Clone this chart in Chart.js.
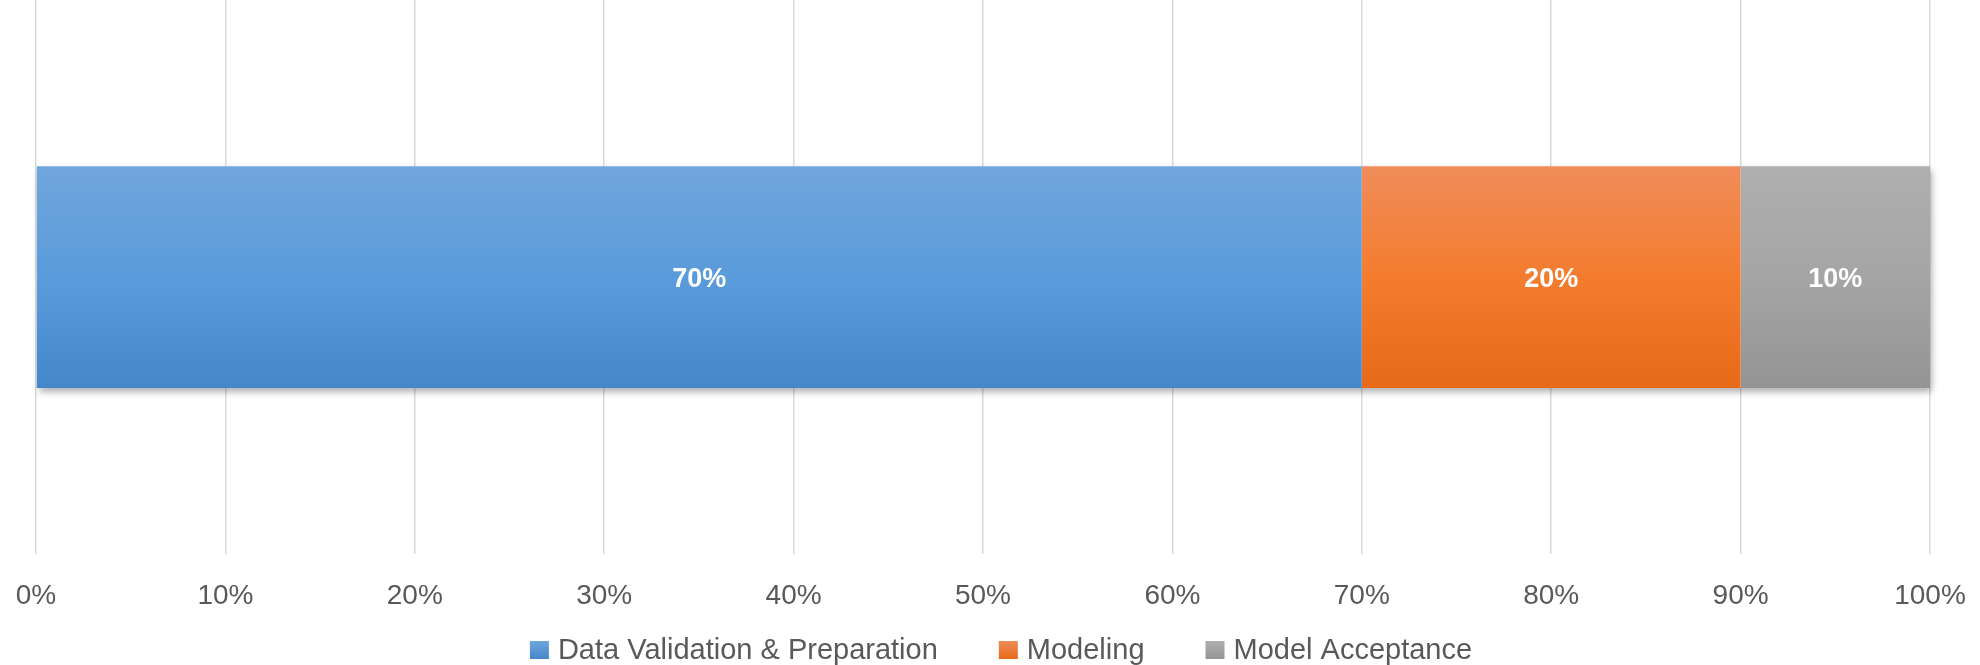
<!DOCTYPE html>
<html>
<head>
<meta charset="utf-8">
<script src="https://cdn.jsdelivr.net/npm/chart.js@4/dist/chart.umd.min.js"></script>
<style>
  html, body { margin: 0; padding: 0; background: #fff; }
  #wrap { width: 1980px; height: 665px; }
</style>
</head>
<body>
<div id="wrap"><canvas id="phaseChart"></canvas></div>
<script>
// Share of project effort per phase (percent)
const categories = [''];
const phaseNames = ['Data Validation & Preparation', 'Modeling', 'Model Acceptance'];
const phaseShares = [70, 20, 10];
const axisMin = 0;
const axisMax = 100;
const axisStep = 10;

// top / middle / bottom colours of each segment's vertical gradient
const palette = [
  ['#70a6dc', '#5a9bdb', '#4488ca'],
  ['#f08c5a', '#f47c2e', '#e66a17'],
  ['#afafaf', '#a5a5a5', '#949494']
];

const BAR_FRACTION = 0.4;
const FONT = '"Liberation Sans", Arial, sans-serif';

function segmentFill(i) {
  return (context) => {
    const area = context.chart.chartArea;
    const stops = palette[i];
    if (!area) return stops[1];
    const mid = (area.top + area.bottom) / 2;
    const half = (area.bottom - area.top) * BAR_FRACTION / 2;
    const g = context.chart.ctx.createLinearGradient(0, mid - half, 0, mid + half);
    g.addColorStop(0, stops[0]);
    g.addColorStop(0.5, stops[1]);
    g.addColorStop(1, stops[2]);
    return g;
  };
}

// soft drop shadow under the whole stacked bar
const barShadow = {
  id: 'barShadow',
  beforeDatasetsDraw(chart) {
    const ctx = chart.ctx;
    const bars = chart.data.datasets.map((d, i) => chart.getDatasetMeta(i).data[0]);
    const left = Math.min(...bars.map(b => Math.min(b.x, b.base)));
    const right = Math.max(...bars.map(b => Math.max(b.x, b.base)));
    const top = bars[0].y - bars[0].height / 2;
    ctx.save();
    ctx.shadowColor = 'rgba(0,0,0,0.35)';
    ctx.shadowBlur = 7;
    ctx.shadowOffsetX = 2;
    ctx.shadowOffsetY = 4;
    ctx.fillStyle = '#ffffff';
    ctx.fillRect(left, top, right - left, bars[0].height);
    ctx.restore();
  }
};

// value labels in the middle of each segment
const segmentLabels = {
  id: 'segmentLabels',
  afterDatasetsDraw(chart) {
    const ctx = chart.ctx;
    ctx.save();
    ctx.font = 'bold 27px ' + FONT;
    ctx.fillStyle = '#ffffff';
    ctx.textAlign = 'center';
    ctx.textBaseline = 'middle';
    chart.data.datasets.forEach((ds, i) => {
      chart.getDatasetMeta(i).data.forEach((bar, j) => {
        ctx.fillText(ds.data[j] + '%', (bar.x + bar.base) / 2, bar.y + 2);
      });
    });
    ctx.restore();
  }
};

// legend row under the axis
const bottomLegend = {
  id: 'bottomLegend',
  afterDraw(chart) {
    const ctx = chart.ctx;
    const boxW = 19, boxH = 18, gap = 9, spacing = 61;
    const y = chart.height - 15;
    ctx.save();
    ctx.font = '29px ' + FONT;
    ctx.textBaseline = 'middle';
    ctx.textAlign = 'left';
    const items = chart.data.datasets.map((ds, i) => ({
      text: ds.label,
      width: ctx.measureText(ds.label).width,
      stops: palette[i]
    }));
    const total = items.reduce((s, it) => s + boxW + gap + it.width, 0) + spacing * (items.length - 1);
    let x = chart.width / 2 + 11 - total / 2;
    items.forEach(it => {
      const g = ctx.createLinearGradient(0, y - boxH / 2, 0, y + boxH / 2);
      g.addColorStop(0, it.stops[0]);
      g.addColorStop(1, it.stops[2]);
      ctx.fillStyle = g;
      ctx.fillRect(x, y - boxH / 2, boxW, boxH);
      ctx.fillStyle = '#595959';
      ctx.fillText(it.text, x + boxW + gap, y + 1);
      x += boxW + gap + it.width + spacing;
    });
    ctx.restore();
  }
};

new Chart(document.getElementById('phaseChart'), {
  type: 'bar',
  data: {
    labels: categories,
    datasets: phaseNames.map((name, i) => ({
      label: name,
      data: [phaseShares[i]],
      backgroundColor: segmentFill(i),
      borderWidth: 0,
      categoryPercentage: BAR_FRACTION,
      barPercentage: 1
    }))
  },
  options: {
    indexAxis: 'y',
    responsive: true,
    maintainAspectRatio: false,
    animation: false,
    layout: { padding: { left: 36, right: 50, top: 0, bottom: 27 } },
    scales: {
      x: {
        stacked: true,
        min: axisMin,
        max: axisMax,
        border: { display: false },
        grid: { color: '#d9d9d9', lineWidth: 1.5, drawTicks: false },
        ticks: {
          stepSize: axisStep,
          padding: 25,
          color: '#595959',
          font: { family: FONT, size: 28 },
          callback: v => v + '%'
        },
        // side margins come from layout.padding only
        afterFit(scale) {
          scale.paddingLeft = 0;
          scale.paddingRight = 0;
        }
      },
      y: { stacked: true, display: false }
    },
    plugins: {
      legend: { display: false },
      tooltip: { enabled: false }
    }
  },
  plugins: [barShadow, segmentLabels, bottomLegend]
});
</script>
</body>
</html>
